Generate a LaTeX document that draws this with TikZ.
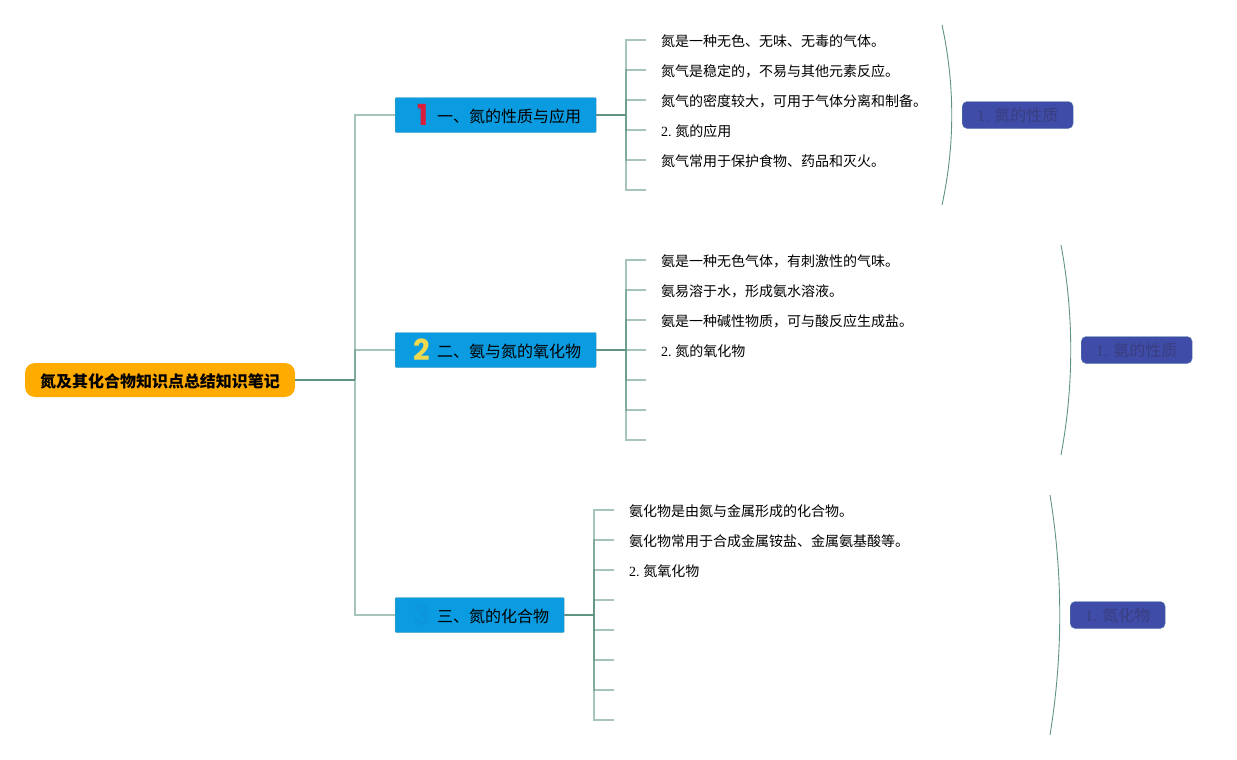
\documentclass[tikz,border=0pt]{standalone}
\usepackage{fontspec}
\setmainfont{Liberation Serif}
\newfontfamily\cjk{Noto Sans CJK SC}
\newfontfamily\badgefont{Poppins}
\usetikzlibrary{calc,positioning}
\definecolor{stemline}{HTML}{5F9484}
\definecolor{rootfill}{HTML}{FFAB00}
\definecolor{branchfill}{HTML}{0A9BE0}
\definecolor{branchedge}{HTML}{4A9BB0}
\definecolor{sumfill}{HTML}{3F4CA8}
\definecolor{sumedge}{HTML}{5F84AE}
\definecolor{sumtext}{HTML}{393F80}
\definecolor{badgeone}{HTML}{D81E3C}
\definecolor{badgetwo}{HTML}{F2D94E}
\definecolor{badgethree}{HTML}{0C96DC}
\tikzset{
  root/.style={fill=rootfill, rounded corners=10pt, minimum width=270pt, minimum height=34pt, inner sep=0pt, text height=14pt, text depth=0pt, font=\cjk\fontsize{16}{16}\selectfont\bfseries},
  branch/.style={draw=branchedge, fill=branchfill, rounded corners=1pt, minimum height=35pt, inner sep=0pt, anchor=west, text height=14pt, text depth=0pt, font=\cjk\fontsize{16}{16}\selectfont},
  leaf/.style={anchor=west, inner sep=0pt, yshift=-1pt, font=\cjk\fontsize{14}{14}\selectfont},
  summary/.style={draw=sumedge, fill=sumfill, text=sumtext, rounded corners=5pt, minimum height=27pt, inner sep=0pt, anchor=west, font=\fontsize{16}{16}\selectfont},
  trunk/.style={draw=stemline, opacity=.55, line width=1.1pt},
  stem/.style={draw=stemline, line width=1.5pt},
  twig/.style={draw=stemline, opacity=.55, line width=1.1pt},
  brace/.style={draw=stemline, line width=.9pt},
  badge/.style={inner sep=0pt, font=\badgefont\fontsize{29}{29}\selectfont\bfseries}
}
\begin{document}
\begin{tikzpicture}[x=1pt,y=-1pt]
  \useasboundingbox (0,0) rectangle (1237,760);
  \node [root] (rootnode) at (160,380) {氮及其化合物知识点总结知识笔记};
  % branches
  \node [branch, minimum width=201pt, text width=201pt] (b1) at (395,115) {\hspace{42pt}一、氮的性质与应用};
  \node [branch, minimum width=201pt, text width=201pt] (b2) at (395,350) {\hspace{42pt}二、氨与氮的氧化物};
  \node [branch, minimum width=169pt, text width=169pt] (b3) at (395,615) {\hspace{42pt}三、氮的化合物};
  \node [badge, text=badgeone] (badge1) at (423,115) {1};
  \node [badge, text=badgetwo] (badge2) at (422,350) {2};
  \node [badge, text=badgethree] (badge3) at (422,615) {3};
  \coordinate (rootjoint) at (355,380);
  \draw [stem] (rootnode.east) -- (rootjoint);
  \foreach \b in {b1,b2,b3} {
    \draw [trunk] (rootjoint) |- (\b.west);
  }
  % first group
  \coordinate (j1) at (626,115);
  \draw [stem] (b1.east) -- (j1);
  \foreach \txt [count=\i] in {氮是一种无色、无味、无毒的气体。,氮气是稳定的，不易与其他元素反应。,氮气的密度较大，可用于气体分离和制备。,{\rmfamily 2. }\kern-1pt 氮的应用,氮气常用于保护食物、药品和灭火。,{}} {
    \node [leaf] (t1\i) at (661,{10+30*\i}) {\txt};
    \draw [twig] (j1) |- ([xshift=-15pt,yshift=1pt]t1\i.west);
  }
  % second group
  \coordinate (j2) at (626,350);
  \draw [stem] (b2.east) -- (j2);
  \foreach \txt [count=\i] in {氨是一种无色气体，有刺激性的气味。,氨易溶于水，形成氨水溶液。,氨是一种碱性物质，可与酸反应生成盐。,{\rmfamily 2. }\kern-1pt 氮的氧化物,{},{},{}} {
    \node [leaf] (t2\i) at (661,{230+30*\i}) {\txt};
    \draw [twig] (j2) |- ([xshift=-15pt,yshift=1pt]t2\i.west);
  }
  % third group
  \coordinate (j3) at (594,615);
  \draw [stem] (b3.east) -- (j3);
  \foreach \txt [count=\i] in {氨化物是由氮与金属形成的化合物。,氨化物常用于合成金属铵盐、金属氨基酸等。,{\rmfamily 2. }\kern-1pt 氮氧化物,{},{},{},{},{}} {
    \node [leaf] (t3\i) at (629,{480+30*\i}) {\txt};
    \draw [twig] (j3) |- ([xshift=-15pt,yshift=1pt]t3\i.west);
  }
  % summaries
  \node [summary, minimum width=111pt] (s1) at (962,115) {1. \cjk 氮的性质};
  \node [summary, minimum width=111pt] (s2) at (1081,350) {1. \cjk 氨的性质};
  \node [summary, minimum width=95pt] (s3) at (1070,615) {1. \cjk 氮化物};
  \coordinate (c1a) at (942,25);
  \coordinate (c1b) at (942,205);
  \coordinate (c2a) at (1061,245);
  \coordinate (c2b) at (1061,455);
  \coordinate (c3a) at (1050,495);
  \coordinate (c3b) at (1050,735);
  \draw [brace] (c1a) .. controls (955,85) and (955,145) .. (c1b);
  \draw [brace] (c2a) .. controls (1074,315) and (1074,385) .. (c2b);
  \draw [brace] (c3a) .. controls (1063,575) and (1063,655) .. (c3b);
\end{tikzpicture}
\end{document}
